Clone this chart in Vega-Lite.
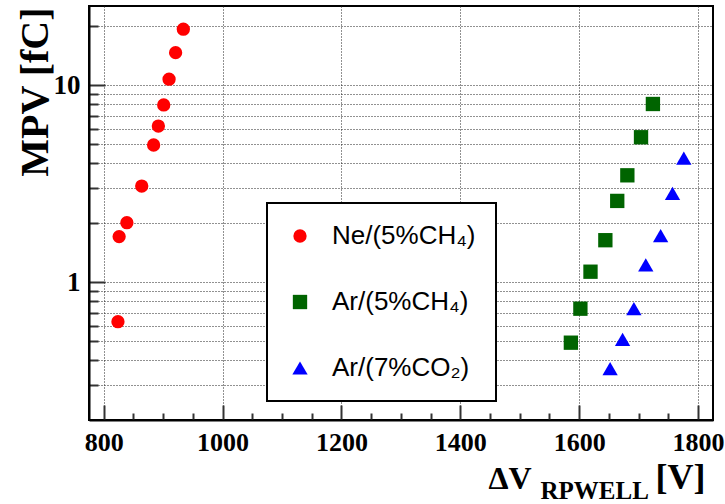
{
  "$schema": "https://vega.github.io/schema/vega-lite/v6.json",
  "width": 624,
  "height": 414,
  "autosize": {"type": "none"},
  "padding": {"left": 89, "top": 6, "right": 12, "bottom": 84},
  "background": "white",
  "config": {
    "view": {"stroke": "black", "strokeWidth": 2},
    "legend": {"strokeWidth": 2}
  },
  "data": {
    "values": [
      {"gas": "Ne/(5%CH₄)", "hv": 824, "mpv": 0.629},
      {"gas": "Ne/(5%CH₄)", "hv": 826, "mpv": 1.70},
      {"gas": "Ne/(5%CH₄)", "hv": 839, "mpv": 2.0},
      {"gas": "Ne/(5%CH₄)", "hv": 864, "mpv": 3.07},
      {"gas": "Ne/(5%CH₄)", "hv": 884, "mpv": 4.96},
      {"gas": "Ne/(5%CH₄)", "hv": 892, "mpv": 6.19},
      {"gas": "Ne/(5%CH₄)", "hv": 901, "mpv": 7.92},
      {"gas": "Ne/(5%CH₄)", "hv": 910, "mpv": 10.7},
      {"gas": "Ne/(5%CH₄)", "hv": 921, "mpv": 14.6},
      {"gas": "Ne/(5%CH₄)", "hv": 934, "mpv": 19.2},
      {"gas": "Ar/(5%CH₄)", "hv": 1586, "mpv": 0.492},
      {"gas": "Ar/(5%CH₄)", "hv": 1602, "mpv": 0.732},
      {"gas": "Ar/(5%CH₄)", "hv": 1619, "mpv": 1.128},
      {"gas": "Ar/(5%CH₄)", "hv": 1644, "mpv": 1.63},
      {"gas": "Ar/(5%CH₄)", "hv": 1664, "mpv": 2.58},
      {"gas": "Ar/(5%CH₄)", "hv": 1681, "mpv": 3.48},
      {"gas": "Ar/(5%CH₄)", "hv": 1704, "mpv": 5.43},
      {"gas": "Ar/(5%CH₄)", "hv": 1724, "mpv": 8.01},
      {"gas": "Ar/(7%CO₂)", "hv": 1652, "mpv": 0.363},
      {"gas": "Ar/(7%CO₂)", "hv": 1673, "mpv": 0.512},
      {"gas": "Ar/(7%CO₂)", "hv": 1692, "mpv": 0.732},
      {"gas": "Ar/(7%CO₂)", "hv": 1712, "mpv": 1.22},
      {"gas": "Ar/(7%CO₂)", "hv": 1737, "mpv": 1.72},
      {"gas": "Ar/(7%CO₂)", "hv": 1757, "mpv": 2.82},
      {"gas": "Ar/(7%CO₂)", "hv": 1776, "mpv": 4.25}
    ]
  },
  "layer": [
    {
      "mark": {"type": "point", "filled": true, "opacity": 1, "strokeWidth": 0},
      "encoding": {
        "x": {
          "field": "hv",
          "type": "quantitative",
          "scale": {"domain": [775.3, 1825.1], "nice": false, "zero": false},
          "axis": {
            "orient": "bottom",
            "values": [800, 850, 900, 950, 1000, 1050, 1100, 1150, 1200, 1250, 1300, 1350, 1400, 1450, 1500, 1550, 1600, 1650, 1700, 1750, 1800],
            "format": "d",
            "labelExpr": "datum.value % 200 == 0 ? datum.label : ''",
            "labelFont": "Liberation Serif",
            "labelFontWeight": "bold",
            "labelFontSize": 26,
            "labelColor": "black",
            "labelBaseline": "alphabetic",
            "labelPadding": 45,
            "labelFlush": false,
            "labelOverlap": false,
            "labelBound": false,
            "tickSize": {"condition": {"test": "datum.value % 200 == 0", "value": -15}, "value": -7},
            "tickColor": "#333333",
            "tickWidth": 2,
            "grid": true,
            "gridOpacity": {"condition": {"test": "datum.value % 200 == 0", "value": 1}, "value": 0},
            "gridDash": [1, 2],
            "gridColor": "#222222",
            "gridWidth": 1,
            "domain": true,
            "domainColor": "black",
            "domainWidth": 2,
            "title": "ΔV",
            "titleFont": "Liberation Serif",
            "titleFontWeight": "bold",
            "titleFontSize": 32,
            "titleColor": "black",
            "titleAlign": "left",
            "titleBaseline": "alphabetic",
            "titleX": 399,
            "titleY": 68
          }
        },
        "y": {
          "field": "mpv",
          "type": "quantitative",
          "scale": {"type": "log", "domain": [0.1993, 25.18], "nice": false},
          "axis": {
            "values": [0.3, 0.4, 0.5, 0.6, 0.7, 0.8, 0.9, 1, 2, 3, 4, 5, 6, 7, 8, 9, 10, 20],
            "format": "~g",
            "labelExpr": "datum.value == 1 || datum.value == 10 ? datum.label : ''",
            "labelFont": "Liberation Serif",
            "labelFontWeight": "bold",
            "labelFontSize": 27,
            "labelColor": "black",
            "labelPadding": 25,
            "labelFlush": false,
            "labelOverlap": false,
            "labelBound": false,
            "tickSize": {"condition": {"test": "datum.value == 1 || datum.value == 10", "value": -16}, "value": -9},
            "tickColor": "#333333",
            "tickWidth": 2,
            "grid": true,
            "gridDash": [1, 2],
            "gridColor": "#222222",
            "gridWidth": 1,
            "domain": true,
            "domainColor": "black",
            "domainWidth": 2,
            "title": "MPV [fC]",
            "titleFont": "Liberation Serif",
            "titleFontWeight": "bold",
            "titleFontSize": 40,
            "titleColor": "black",
            "titleAngle": -90,
            "titleAlign": "right",
            "titleBaseline": "alphabetic",
            "titleX": -42,
            "titleY": 1
          }
        },
        "color": {
          "field": "gas",
          "type": "nominal",
          "scale": {"domain": ["Ne/(5%CH₄)", "Ar/(5%CH₄)", "Ar/(7%CO₂)"], "range": ["#ff0000", "#006400", "#0000ff"]},
          "legend": {
            "title": null,
            "orient": "none",
            "direction": "vertical",
            "legendX": 178,
            "legendY": 197,
            "padding": 20,
            "rowPadding": 40,
            "labelOffset": 19,
            "labelFont": "Liberation Sans",
            "labelFontSize": 26,
            "labelColor": "black",
            "labelLimit": 0,
            "symbolSize": 220,
            "symbolStrokeWidth": 0,
            "strokeColor": "black",
            "fillColor": "white"
          }
        },
        "shape": {
          "field": "gas",
          "type": "nominal",
          "scale": {"domain": ["Ne/(5%CH₄)", "Ar/(5%CH₄)", "Ar/(7%CO₂)"], "range": ["circle", "square", "triangle-up"]},
          "legend": {
            "title": null,
            "orient": "none",
            "direction": "vertical",
            "legendX": 178,
            "legendY": 197,
            "padding": 20,
            "rowPadding": 40,
            "labelOffset": 19,
            "labelFont": "Liberation Sans",
            "labelFontSize": 26,
            "labelColor": "black",
            "labelLimit": 0,
            "symbolSize": 220,
            "symbolStrokeWidth": 0,
            "strokeColor": "black",
            "fillColor": "white"
          }
        },
        "size": {
          "field": "gas",
          "type": "nominal",
          "scale": {"domain": ["Ne/(5%CH₄)", "Ar/(5%CH₄)", "Ar/(7%CO₂)"], "range": [177, 234, 210]},
          "legend": null
        }
      }
    },
    {
      "mark": {"type": "point", "opacity": 0},
      "encoding": {
        "x": {
          "field": "hv",
          "type": "quantitative",
          "axis": {
            "orient": "bottom",
            "labels": false,
            "ticks": false,
            "domain": false,
            "grid": false,
            "title": "RPWELL",
            "titleFont": "Liberation Serif",
            "titleFontWeight": "bold",
            "titleFontSize": 25,
            "titleColor": "black",
            "titleAlign": "left",
            "titleBaseline": "alphabetic",
            "titleX": 451,
            "titleY": 78
          }
        }
      }
    },
    {
      "mark": {"type": "point", "opacity": 0},
      "encoding": {
        "x": {
          "field": "hv",
          "type": "quantitative",
          "axis": {
            "orient": "bottom",
            "labels": false,
            "ticks": false,
            "domain": false,
            "grid": false,
            "title": "[V]",
            "titleFont": "Liberation Serif",
            "titleFontWeight": "bold",
            "titleFontSize": 36,
            "titleColor": "black",
            "titleAlign": "left",
            "titleBaseline": "alphabetic",
            "titleX": 566,
            "titleY": 68
          }
        }
      }
    }
  ],
  "resolve": {"axis": {"x": "independent"}}
}
